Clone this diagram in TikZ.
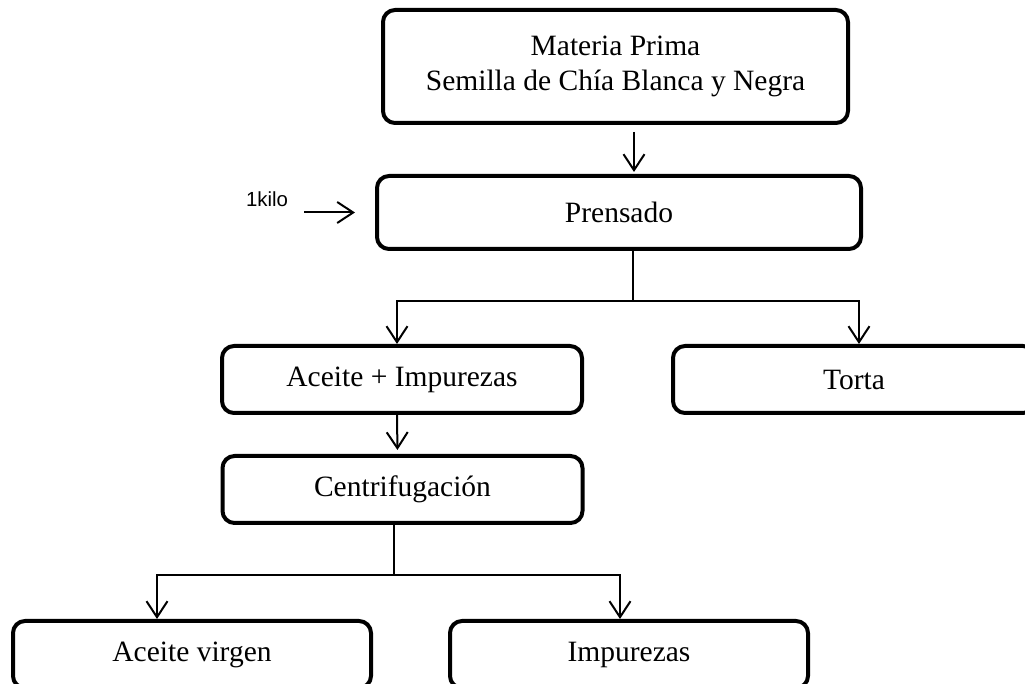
\documentclass[tikz,border=0pt]{standalone}
\usepackage{fontspec}
\setmainfont{Liberation Serif}
\newfontfamily\arialfont{Liberation Sans}
\usetikzlibrary{arrows.meta}
\begin{document}
\begin{tikzpicture}[x=0.5pt,y=-0.5pt,
  box/.style={draw,line width=2pt,rounded corners=6pt,align=center,inner sep=0pt,
    minimum width=180pt,minimum height=33.5pt,font=\fontsize{14.75}{17.5}\selectfont},
  arr/.style={-{Straight Barb[length=8pt,width=10.5pt]},line width=1pt},
  link/.style={line width=0.8pt}]
\useasboundingbox (0,0) rectangle (1025,684);
\clip (0,0) rectangle (1025,684);

\node[box,minimum width=232.5pt,minimum height=56.5pt] (prima) at (615.5,66.5) {Materia Prima\\Semilla de Chía Blanca y Negra};
\node[box,minimum width=242pt,minimum height=36.5pt] (prensado) at (619,212.5) {Prensado};
\node[box] (aceiteimp) at (402,379.5) {Aceite + Impurezas};
\node[box,minimum width=181pt] (torta) at (854,379.5) {Torta};
\node[box] (centrif) at (402.5,489.5) {Centrifugación};
\node[box,minimum width=179pt] (virgen) at (192,654.5) {Aceite virgen};
\node[box,minimum width=179pt] (impurezas) at (629,654.5) {Impurezas};
\node[font=\arialfont\fontsize{10.2}{12}\selectfont,inner sep=0pt] (kilo) at (267,199) {1kilo};

\coordinate (feed) at (634,0);
\coordinate (split1) at (633,301);
\coordinate (split2) at (394,575);

\draw[arr,shorten <=3.5pt,shorten >=1pt] (prima.south -| feed) -- (prensado.north -| feed);
\draw[arr,shorten >=10pt] ([xshift=8pt]kilo.east |- prensado.west) -- (prensado.west);
\draw[link] (prensado.south -| split1) -- (split1);
\draw[arr] (split1) -| ([xshift=-2.5pt]aceiteimp.north);
\draw[arr] (split1) -| ([xshift=2.5pt]torta.north);
\draw[arr,shorten >=2pt] ([xshift=-2.5pt]aceiteimp.south) -- ([xshift=-2.5pt]centrif.north);
\draw[link] (centrif.south -| split2) -- (split2);
\draw[arr] (split2) -| ([xshift=-17.5pt]virgen.north);
\draw[arr] (split2) -| ([xshift=-4.5pt]impurezas.north);
\end{tikzpicture}
\end{document}
